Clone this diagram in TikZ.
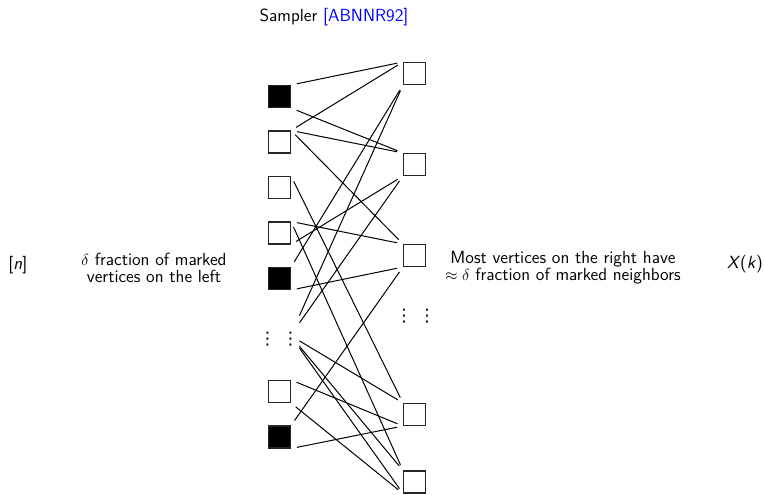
\documentclass[tikz,border=0pt]{standalone}
\usepackage{fontspec}
\usepackage{xcolor}
\newfontfamily\dotsfont{DejaVu Sans}

\tikzset{
  labeltext/.style={font=\sffamily\fontsize{13.2pt}{12.6pt}\selectfont},
  vbox/.style={draw=black!85, line width=0.9pt, minimum size=16.4pt, inner sep=0pt, fill=white},
  marked/.style={vbox, fill=black},
  link/.style={line width=0.75pt, shorten >=4.5pt, shorten <=4.5pt},
  dotlink/.style={line width=0.75pt, shorten >=4.5pt},
  dotcol/.style={font=\dotsfont\fontsize{13pt}{13pt}\selectfont, inner sep=0pt},
  dothub/.style={dotcol, minimum width=12.75pt, minimum height=45pt},
}

\begin{document}
\begin{tikzpicture}[x=0.75pt, y=-0.75pt]
  \useasboundingbox (0,0) rectangle (765,494);

  % captions
  \node[labeltext, anchor=base] (title) at (334,21.7) {Sampler \textcolor{blue}{[ABNNR92]}};
  \node[labeltext] (nset) at (17.8,265) {[\textit{n}]};
  \node[labeltext, align=center] (lefttxt) at (154,268)
       {$\delta$ fraction of marked\\vertices on the left};
  \node[labeltext, align=center] (righttxt) at (563,268)
       {Most vertices on the right have\\$\approx\delta$ fraction of marked neighbors};
  \node[labeltext] (xk) at (745,264) {\textit{X}(\textit{k})};

  % left vertices
  \node[marked] (l1) at (279.5,96.5) {};
  \node[vbox]   (l2) at (279.5,142) {};
  \node[vbox]   (l3) at (279.5,187.5) {};
  \node[vbox]   (l4) at (279.5,233) {};
  \node[marked] (l5) at (279.5,278.5) {};
  \node[dotcol] (d6a) at (267.5,339.5) {⋮};
  \node[dothub] (d6)  at (290.5,335.5) {\raisebox{-3pt}[\height][\depth]{⋮}};
  \node[vbox]   (l7) at (279.5,391.5) {};
  \node[marked] (l8) at (279.5,437) {};

  % right vertices
  \node[vbox] (r1) at (414.5,73.5) {};
  \node[vbox] (r2) at (414.5,164.5) {};
  \node[vbox] (r3) at (414.5,255.5) {};
  \node[dotcol] (rd1) at (404,316.5) {⋮};
  \node[dotcol] (rd2) at (427,316.5) {⋮};
  \node[vbox] (r4) at (414.5,414.5) {};
  \node[vbox] (r5) at (414.5,482) {};

  % edges of the bipartite graph
  \draw[link] (l1.north east) -- (r1.north west);
  \draw[link] (l1.south east) -- (r2.north west);
  \draw[link] (l2.north east) -- (r1.north west);
  \draw[link] (l2.north east) -- (r2.north west);
  \draw[link] (l2.north east) -- (r3.north west);
  \draw[link] (l3.north east) -- (r4.north west);
  \draw[link] (l4.north east) -- (r3.north west);
  \draw[link] (l4.north east) -- (r5.north west);
  \draw[link] (l4.south east) -- (r2.south west);
  \draw[link] (l5.north east) -- (r1.south west);
  \draw[link] (l5.south east) -- (r3.south west);
  \draw[dotlink] (d6) -- (r1.south west);
  \draw[dotlink] (d6) -- (r2.south west);
  \draw[dotlink] (d6) -- (r4.north west);
  \draw[dotlink] (d6) -- (r5.north west);
  \draw[dotlink] (d6) -- (r5.south west);
  \draw[link] (l7.north east) -- (r4.south west);
  \draw[link] (l7.south east) -- (r5.south west);
  \draw[link] (l8.north east) -- (r3.south west);
  \draw[link] (l8.south east) -- (r4.south west);
\end{tikzpicture}
\end{document}
